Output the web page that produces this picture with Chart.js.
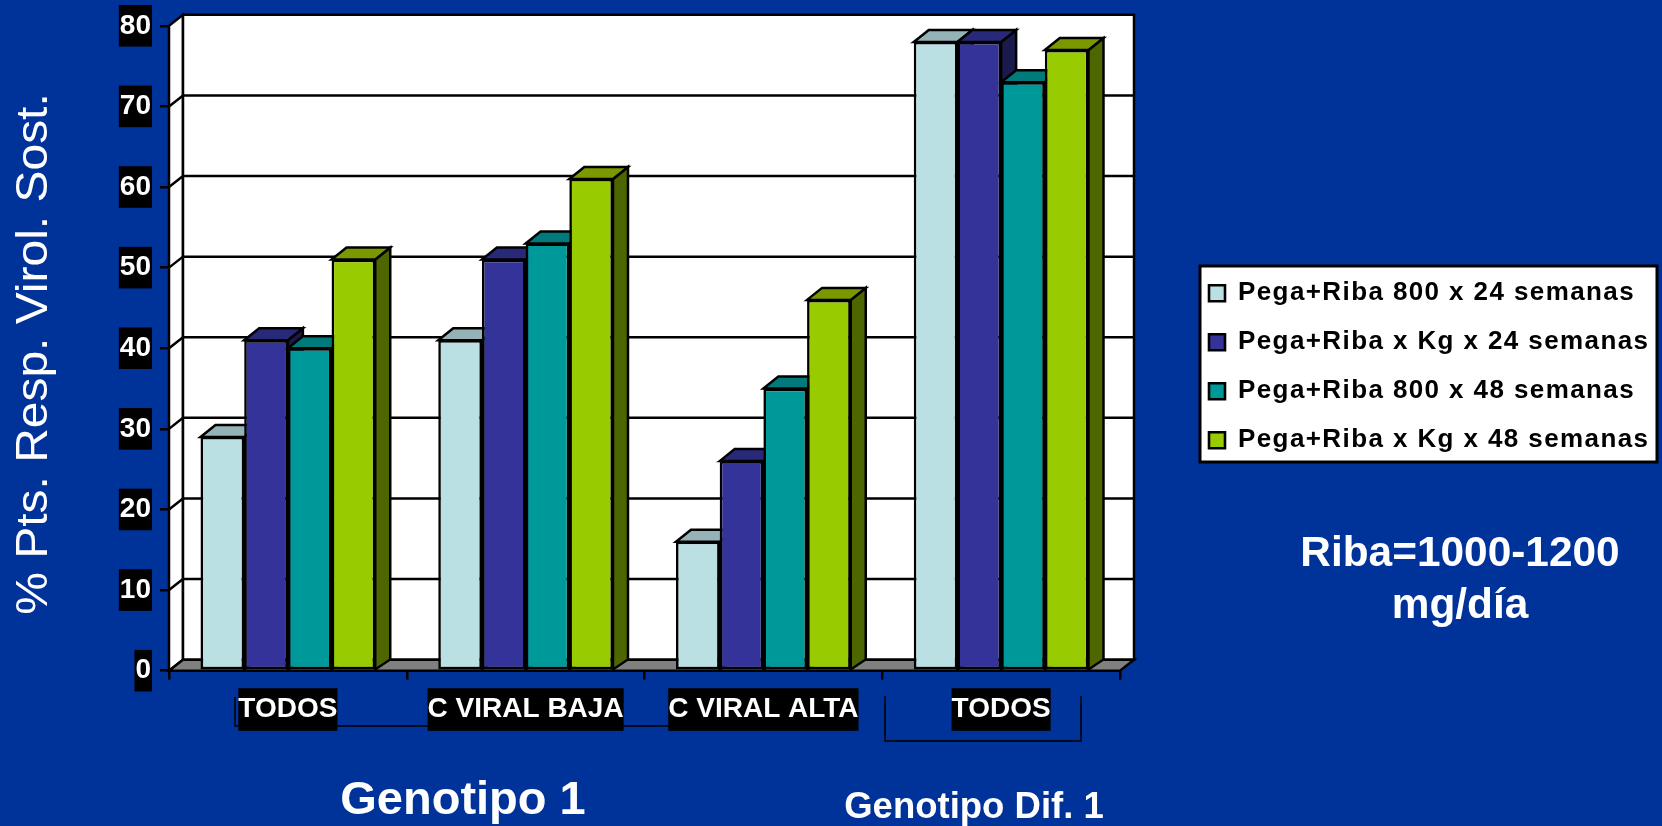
<!DOCTYPE html>
<html><head><meta charset="utf-8">
<style>html,body{margin:0;padding:0;background:#003399;overflow:hidden}canvas{display:block}</style>
<script src="https://cdn.jsdelivr.net/npm/chart.js@4"></script>
</head><body><canvas id="c" width="1662" height="826"></canvas>
<script>
const categories = ["TODOS", "C VIRAL BAJA", "C VIRAL ALTA", "TODOS"];
const seriesNames = ["Pega+Riba 800 x 24 semanas", "Pega+Riba x Kg x 24 semanas", "Pega+Riba 800 x 48 semanas", "Pega+Riba x Kg x 48 semanas"];
const peg800w24 = [29, 41, 16, 78];
const pegKgw24 = [41, 51, 26, 78];
const peg800w48 = [40, 53, 35, 73];
const pegKgw48 = [51, 61, 46, 77];
const frontColors = ["#BBE0E3", "#333399", "#009999", "#99CC00"];
const topColors = ["#95B3B6", "#29297A", "#007A7A", "#7A9900"];
const sideColors = ["#5E7072", "#1A1A4D", "#004D4D", "#4D6600"];
const seriesValues = [peg800w24, pegKgw24, peg800w48, pegKgw48];
const FONT = '"Liberation Sans", Arial, sans-serif';

function poly(ctx, pts, fill, stroke, lw) {
  ctx.beginPath();
  pts.forEach((p, i) => i ? ctx.lineTo(p[0], p[1]) : ctx.moveTo(p[0], p[1]));
  ctx.closePath();
  if (fill) { ctx.fillStyle = fill; ctx.fill(); }
  if (stroke) { ctx.strokeStyle = stroke; ctx.lineWidth = lw; ctx.lineJoin = 'miter'; ctx.stroke(); }
}
function label(ctx, text, x, y, size, weight) {
  ctx.font = `${weight} ${size}px ${FONT}`;
  ctx.fillStyle = '#fff'; ctx.textAlign = 'center'; ctx.textBaseline = 'middle';
  ctx.fillText(text, x, y);
}

const decor = {
  id: 'decor',
  beforeDraw(chart) {
    const c = chart.ctx;
    c.save();
    c.fillStyle = '#003399'; c.fillRect(0, 0, 1662, 826);
    // legend panel
    c.fillStyle = '#fff'; c.fillRect(1200, 266, 457, 196);
    c.strokeStyle = '#000'; c.lineWidth = 3; c.strokeRect(1200, 266, 457, 196);
    // brackets under the category labels
    c.strokeStyle = '#000'; c.lineWidth = 1.5;
    c.beginPath();
    c.moveTo(235, 697); c.lineTo(235, 726); c.lineTo(719, 726);
    c.moveTo(885, 696); c.lineTo(885, 741); c.lineTo(1081, 741); c.lineTo(1081, 696);
    c.stroke();
    c.restore();
  },
  beforeDatasetsDraw(chart) {
    const c = chart.ctx, y = chart.scales.y, a = chart.chartArea;
    const dx = 14, dy = 11;
    const y0 = y.getPixelForValue(0), yT = y.getPixelForValue(80);
    c.save();
    // walls
    poly(c, [[a.left, y0], [a.left + dx, y0 - dy], [a.left + dx, yT - dy], [a.left, yT]], '#fff', '#000', 2.5);
    poly(c, [[a.left + dx, y0 - dy], [a.right + dx, y0 - dy], [a.right + dx, yT - dy], [a.left + dx, yT - dy]], '#fff', '#000', 2.5);
    // gridlines
    c.strokeStyle = '#000'; c.lineWidth = 2.5;
    y.ticks.forEach(t => {
      if (t.value === 0 || t.value === 80) return;
      const p = y.getPixelForValue(t.value);
      c.beginPath(); c.moveTo(a.left, p); c.lineTo(a.left + dx, p - dy); c.lineTo(a.right + dx, p - dy); c.stroke();
    });
    // floor
    poly(c, [[a.left, y0], [a.left + dx, y0 - dy], [a.right + dx, y0 - dy], [a.right, y0]], '#808080', '#000', 2.5);
    // bar sides and tops, left to right
    const bx = 15, bTop = 12, bBot = 10;
    categories.forEach((_, i) => {
      seriesValues.forEach((_, d) => {
        const el = chart.getDatasetMeta(d).data[i];
        const l = el.x - el.width / 2, r = el.x + el.width / 2;
        poly(c, [[r, el.y], [r + bx, el.y - bTop], [r + bx, el.base - bBot], [r, el.base]], sideColors[d], '#000', 2.5);
        poly(c, [[l, el.y], [l + bx, el.y - bTop], [r + bx, el.y - bTop], [r, el.y]], topColors[d], '#000', 2.5);
      });
    });
    c.restore();
  },
  afterDraw(chart) {
    const c = chart.ctx;
    c.save();
    label(c, 'Riba=1000-1200', 1460, 554, 42.4, 'bold');
    label(c, 'mg/día', 1460, 606, 42.4, 'bold');
    label(c, 'Genotipo 1', 463, 801, 47, 'bold');
    label(c, 'Genotipo Dif. 1', 974, 808, 36.5, 'bold');
    c.translate(35, 354); c.rotate(-Math.PI / 2); c.scale(1.09, 1);
    label(c, '% Pts. Resp. Virol. Sost.', 0, 0, 44, 'normal');
    c.restore();
  },
  afterLayout(chart) {
    const l = chart.legend;
    l.left = 1186; l.right = 1656; l.top = 257.2; l.bottom = 560;
    if (!l._spaced) {
      const d = l.draw;
      l.draw = function () {
        chart.ctx.letterSpacing = '1.4px';
        d.call(this);
        chart.ctx.letterSpacing = '0px';
      };
      l._spaced = true;
    }
  }
};

new Chart(document.getElementById('c'), {
  type: 'bar',
  plugins: [decor],
  data: {
    labels: categories,
    datasets: seriesNames.map((n, d) => ({
      label: n, data: seriesValues[d],
      backgroundColor: frontColors[d], borderColor: '#000', borderWidth: 2.6, borderSkipped: false
    }))
  },
  options: {
    responsive: false, animation: false,
    layout: { padding: { top: 23, right: 542, left: 0, bottom: 0 } },
    datasets: { bar: { categoryPercentage: 0.735, barPercentage: 1 } },
    plugins: {
      tooltip: { enabled: false },
      legend: {
        position: 'chartArea', align: 'start',
        labels: { boxWidth: 16, boxHeight: 16, padding: 23, color: '#000', font: { family: FONT, size: 26, weight: 'bold' } }
      }
    },
    scales: {
      x: {
        afterFit: s => { s.height = 155.3; },
        border: { color: '#000', width: 2.5 },
        grid: { offset: true, drawOnChartArea: false, color: '#000', tickLength: 9, lineWidth: 2.5 },
        ticks: {
          color: '#fff', autoSkip: false, maxRotation: 0, padding: 13,
          font: { family: FONT, size: 28, weight: 'bold' },
          showLabelBackdrop: true, backdropColor: '#000', backdropPadding: { x: 0, y: 4.5 }
        }
      },
      y: {
        min: 0, max: 80,
        afterFit: s => { s.width = 169; },
        border: { color: '#000', width: 2.5 },
        grid: { drawOnChartArea: false, color: '#000', tickLength: 9, lineWidth: 2.5 },
        ticks: {
          stepSize: 10, color: '#fff', padding: 9,
          font: { family: FONT, size: 28, weight: 'bold' },
          showLabelBackdrop: true, backdropColor: '#000', backdropPadding: { x: 1, y: 4 }
        }
      }
    }
  }
});
</script></body></html>
